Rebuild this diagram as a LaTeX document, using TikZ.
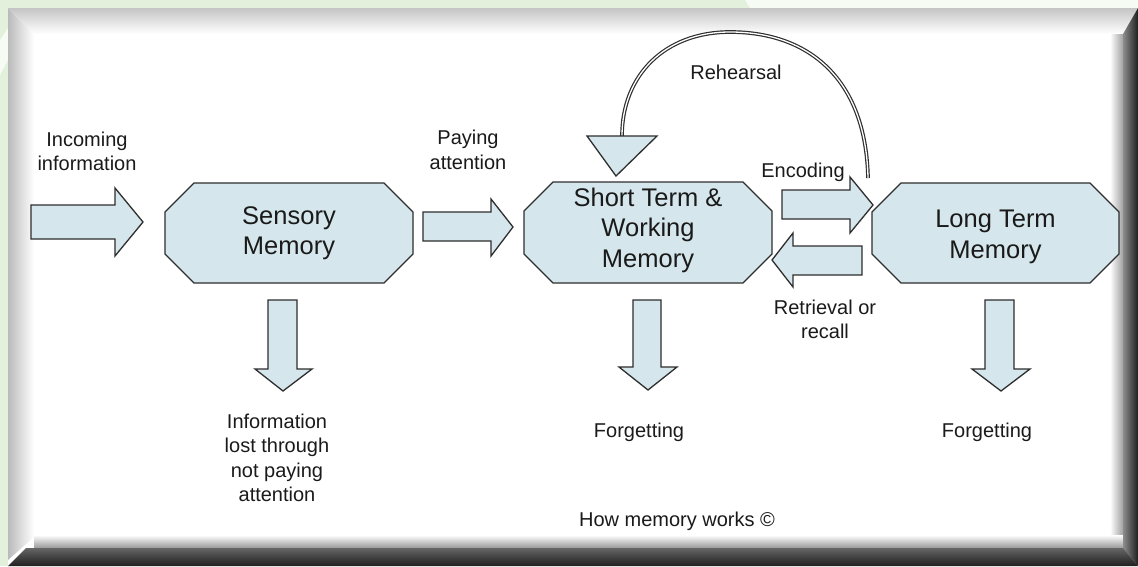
\documentclass[tikz,border=0pt]{standalone}
\usepackage{fontspec}
\setmainfont{Liberation Sans}
\definecolor{bggreen}{HTML}{E2F0DC}
\definecolor{bglight}{HTML}{F6FBF4}
\definecolor{memfill}{HTML}{D5E7EC}
\definecolor{memline}{HTML}{2E2E2E}
\definecolor{txtcol}{HTML}{1A1A1A}
\tikzset{
  memshape/.style={draw=memline, fill=memfill, line width=1.3pt, line join=miter},
  blk/.style={draw=memline, fill=memfill, line width=1.3pt, line join=miter},
  bigtxt/.style={text=txtcol, align=center, font=\fontsize{25.5}{30.5}\selectfont, inner sep=0pt},
  smalltxt/.style={text=txtcol, align=center, font=\fontsize{20}{24.5}\selectfont, inner sep=0pt},
  rehline/.style={draw=memline, double=white, line width=1.2pt, double distance=1.3pt}
}
\newcommand{\memoct}[5]{%
  \draw[memshape] (#2+29,#3) -- (#4-29,#3) -- (#4,#3+29) -- (#4,#5-29) -- (#4-29,#5)
     -- (#2+29,#5) -- (#2,#5-29) -- (#2,#3+29) -- cycle;
  \coordinate (#1) at ({(#2+#4)/2},{(#3+#5)/2});}
\begin{document}
\begin{tikzpicture}[x=1pt,y=-1pt]
\useasboundingbox (0,0) rectangle (1138,566);
% background
\fill[bggreen] (0,0) rectangle (1138,566);
\fill[bglight] (745,0) -- (1138,0) -- (1138,8) -- (750,8) -- cycle;
\fill[bglight] (0,40) -- (8,28) -- (8,60) -- (0,75) -- cycle;
% frame
\fill[white] (8,8) rectangle (1138,566);
\shade[top color=black!23, bottom color=white] (8,8) -- (1138,8) -- (1123,34) -- (34,34) -- cycle;
\shade[left color=black!27, right color=white] (8,8) -- (34,34) -- (34,537) -- (8,560) -- cycle;
\shade[left color=white, right color=black!40] (1110,34) rectangle (1124,548);
\shade[top color=white, bottom color=black!40] (34,535) rectangle (1124,548);
\shade[left color=black!45, right color=black!88] (1138,8) -- (1123,34) -- (1123,548) -- (1138,566) -- cycle;
\shade[top color=black!60, bottom color=black!88] (8,566) -- (26,548) -- (1123,548) -- (1138,566) -- cycle;
% memory stores
\memoct{sensoryC}{165}{183}{413}{283}
\memoct{stmC}{524}{182}{772}{283}
\memoct{ltmC}{872}{183}{1119}{283}
\node[bigtxt] (sensory) at (289,233) {Sensory\\Memory};
\node[bigtxt] (stm) at (648,230) {Short Term \&\\Working\\Memory};
\node[bigtxt] (ltm) at (995.5,237) {Long Term\\Memory};
% block arrows
\draw[blk] (31,205) -- (115,205) -- (115,188) -- (143,222) -- (115,256) -- (115,239) -- (31,239) -- cycle;
\draw[blk] (423,212) -- (491,212) -- (491,199) -- (513,227) -- (491,256) -- (491,241) -- (423,241) -- cycle;
\draw[blk] (782,190) -- (850,190) -- (850,177) -- (873,205) -- (850,233) -- (850,219) -- (782,219) -- cycle;
\draw[blk] (862,246) -- (793,246) -- (793,233) -- (772,260) -- (793,287) -- (793,275) -- (862,275) -- cycle;
\draw[blk] (268,300) -- (297,300) -- (297,369) -- (312,369) -- (283,391) -- (255,369) -- (268,369) -- cycle;
\draw[blk] (633,300) -- (661,300) -- (661,367) -- (677,367) -- (648,390) -- (619,367) -- (633,367) -- cycle;
\draw[blk] (985,300) -- (1014,300) -- (1014,369) -- (1030,369) -- (1001,391) -- (972,369) -- (985,369) -- cycle;
% rehearsal loop
\coordinate (rehS) at (868,178);
\coordinate (rehTop) at (730,32);
\coordinate (rehE) at (622,136);
\draw[rehline] (rehS) .. controls (866,80) and (810,32) .. (rehTop)
   .. controls (665,32) and (622,75) .. (rehE);
\draw[blk] (587,136) -- (657,136) -- (616,176) -- cycle;
% labels
\node[smalltxt] (lblIn) at (87,151.5) {Incoming\\information};
\node[smalltxt] (lblPay) at (468,150) {Paying\\attention};
\node[smalltxt] (lblReh) at (736,72) {Rehearsal};
\node[smalltxt] (lblEnc) at (803,172) {Encoding};
\node[smalltxt] (lblRet) at (825,319.5) {Retrieval or\\recall};
\node[smalltxt] (lblLost) at (277,458) {Information\\lost through\\not paying\\attention};
\node[smalltxt] (lblF1) at (639,432) {Forgetting};
\node[smalltxt] (lblF2) at (987,432) {Forgetting};
\node[smalltxt] (lblHow) at (677,521) {How memory works ©};
\end{tikzpicture}
\end{document}
